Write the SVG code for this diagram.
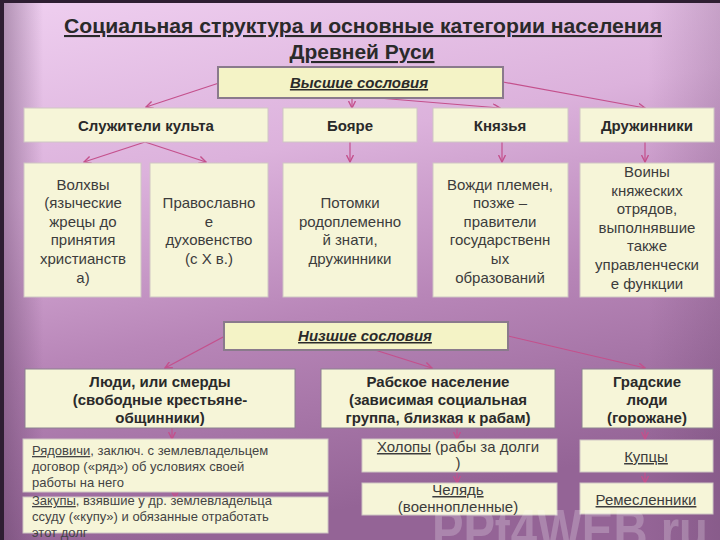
<svg xmlns="http://www.w3.org/2000/svg" width="720" height="540" viewBox="0 0 720 540">
<defs>
<linearGradient id="bg" x1="0" y1="0" x2="0.25" y2="1">
<stop offset="0" stop-color="#efcff0"/>
<stop offset="0.35" stop-color="#dcb2dc"/>
<stop offset="0.65" stop-color="#b886b8"/>
<stop offset="1" stop-color="#946496"/>
</linearGradient>
<linearGradient id="side" x1="0" y1="0" x2="1" y2="0">
<stop offset="0" stop-color="#5a3a5e" stop-opacity="0.45"/>
<stop offset="0.06" stop-color="#5a3a5e" stop-opacity="0"/>
<stop offset="0.9" stop-color="#5a3a5e" stop-opacity="0"/>
<stop offset="1" stop-color="#5a3a5e" stop-opacity="0.2"/>
</linearGradient>
<marker id="ah" markerWidth="8" markerHeight="8" refX="7" refY="4" orient="auto" markerUnits="userSpaceOnUse">
<path d="M0,0.5 L7,4 L0,7.5" fill="none" stroke="#c4508c" stroke-width="1.4"/>
</marker>
</defs>
<style>
.box{fill:#f6f5d8;stroke:#cfc6c4;stroke-width:1}
.hbox{fill:#f4f3c6;stroke:#8a7a8c;stroke-width:2}
.lbox{fill:#f6f5d8;stroke:#8c8090;stroke-width:1}
.t{font-family:"Liberation Sans",Arial,sans-serif;fill:#2a2a2a;text-anchor:middle}
.b{font-weight:bold;font-size:15px}
.r{font-size:15px;fill:#3c3c3c}
.s{font-size:13px;fill:#444;text-anchor:start}
.u{text-decoration:underline}
.c{fill:none;stroke:#c4508c;stroke-width:1.2;marker-end:url(#ah)}
</style>
<rect x="0" y="0" width="720" height="540" fill="url(#bg)"/>
<rect x="0" y="0" width="720" height="540" fill="url(#side)"/>
<rect x="0" y="0" width="720" height="3" fill="#2e1e32"/>
<rect x="0" y="0" width="4" height="540" fill="#2e1e32"/>

<g id="title">
<text class="t u" x="363" y="33" font-size="21" font-weight="bold" textLength="598" lengthAdjust="spacingAndGlyphs">Социальная структура и основные категории населения</text>
<text class="t u" x="362" y="59" font-size="21" font-weight="bold" textLength="145" lengthAdjust="spacingAndGlyphs">Древней Руси</text>
</g>

<g id="connectors">
<path class="c" d="M219,83 L146,107"/>
<path class="c" d="M352,98 L352,108"/>
<path class="c" d="M366,97 L500,108"/>
<path class="c" d="M503,82 L645,108"/>
<path class="c" d="M145,142 L84,162"/>
<path class="c" d="M145,142 L206,162"/>
<path class="c" d="M350,142 L350,162"/>
<path class="c" d="M502,142 L502,162"/>
<path class="c" d="M645,142 L645,162"/>
<path class="c" d="M225,336 L165,368"/>
<path class="c" d="M375,350 L432,368"/>
<path class="c" d="M508,336 L645,368"/>
<path class="c" d="M172,428 L172,439"/>
<path class="c" d="M175,490 L175,498"/>
<path class="c" d="M457,428 L457,439"/>
<path class="c" d="M457,472 L457,483"/>
<path class="c" d="M645,428 L645,439"/>
<path class="c" d="M645,472 L645,483"/>
</g>

<g id="high">
<rect class="hbox" x="218" y="67" width="285" height="31"/>
<text class="t u" x="359" y="88" font-size="15" font-weight="bold" font-style="italic">Высшие сословия</text>
</g>

<g id="sluzhiteli">
<rect class="box" x="24" y="108" width="244" height="34"/>
<text class="t b" x="146" y="131">Служители культа</text>
</g>
<g id="boyare">
<rect class="box" x="283" y="108" width="134" height="34"/>
<text class="t b" x="350" y="131">Бояре</text>
</g>
<g id="knyazya">
<rect class="box" x="433" y="108" width="135" height="34"/>
<text class="t b" x="500" y="131">Князья</text>
</g>
<g id="druzhinniki">
<rect class="box" x="580" y="108" width="134" height="34"/>
<text class="t b" x="647" y="131">Дружинники</text>
</g>

<g id="volkhvy">
<rect class="box" x="24" y="163" width="117" height="134"/>
<text class="t r" x="83" y="190">Волхвы</text>
<text class="t r" x="83" y="208">(языческие</text>
<text class="t r" x="83" y="227">жрецы до</text>
<text class="t r" x="83" y="245">принятия</text>
<text class="t r" x="83" y="264">христианств</text>
<text class="t r" x="83" y="283">а)</text>
</g>
<g id="pravoslavnoe">
<rect class="box" x="150" y="163" width="118" height="134"/>
<text class="t r" x="209" y="208">Православно</text>
<text class="t r" x="209" y="227">е</text>
<text class="t r" x="209" y="245">духовенство</text>
<text class="t r" x="209" y="264">(с X в.)</text>
</g>
<g id="potomki">
<rect class="box" x="283" y="163" width="134" height="134"/>
<text class="t r" x="350" y="208">Потомки</text>
<text class="t r" x="350" y="227">родоплеменно</text>
<text class="t r" x="350" y="245">й знати,</text>
<text class="t r" x="350" y="264">дружинники</text>
</g>
<g id="vozhdi">
<rect class="box" x="433" y="163" width="135" height="134"/>
<text class="t r" x="500" y="190">Вожди племен,</text>
<text class="t r" x="500" y="208">позже –</text>
<text class="t r" x="500" y="227">правители</text>
<text class="t r" x="500" y="245">государственн</text>
<text class="t r" x="500" y="264">ых</text>
<text class="t r" x="500" y="283">образований</text>
</g>
<g id="voiny">
<rect class="box" x="580" y="163" width="134" height="134"/>
<text class="t r" x="647" y="177">Воины</text>
<text class="t r" x="647" y="196">княжеских</text>
<text class="t r" x="647" y="214">отрядов,</text>
<text class="t r" x="647" y="233">выполнявшие</text>
<text class="t r" x="647" y="251">также</text>
<text class="t r" x="647" y="270">управленчески</text>
<text class="t r" x="647" y="289">е функции</text>
</g>

<g id="low">
<rect class="hbox" x="224" y="322" width="284" height="28"/>
<text class="t u" x="365" y="341" font-size="15" font-weight="bold" font-style="italic">Низшие сословия</text>
</g>

<g id="lyudi">
<rect class="lbox" x="25" y="369" width="270" height="59"/>
<text class="t b" x="160" y="387">Люди, или смерды</text>
<text class="t b" x="160" y="405">(свободные крестьяне-</text>
<text class="t b" x="160" y="423">общинники)</text>
</g>
<g id="rabskoe">
<rect class="lbox" x="321" y="369" width="234" height="59"/>
<text class="t b" x="438" y="387">Рабское население</text>
<text class="t b" x="438" y="405">(зависимая социальная</text>
<text class="t b" x="438" y="423">группа, близкая к рабам)</text>
</g>
<g id="gradskie">
<rect class="lbox" x="582" y="369" width="131" height="59"/>
<text class="t b" x="647" y="387">Градские</text>
<text class="t b" x="647" y="405">люди</text>
<text class="t b" x="647" y="423">(горожане)</text>
</g>

<g id="ryadovichi">
<rect class="box" x="23" y="439" width="305" height="53"/>
<text class="t s" x="32" y="455"><tspan class="u">Рядовичи</tspan>, заключ. с землевладельцем</text>
<text class="t s" x="32" y="471">договор («ряд») об условиях  своей</text>
<text class="t s" x="32" y="487">работы на него</text>
</g>
<g id="zakupy">
<rect class="box" x="23" y="497" width="305" height="36"/>
<text class="t s" x="32" y="505"><tspan class="u">Закупы</tspan>, взявшие у др. землевладельца</text>
<text class="t s" x="32" y="521">ссуду («купу») и обязанные отработать</text>
<text class="t s" x="32" y="537">этот долг</text>
</g>
<g id="kholopy">
<rect class="box" x="362" y="439" width="195" height="33"/>
<text class="t r" x="458" y="452" font-size="14"><tspan class="u">Холопы</tspan> (рабы за долги</text>
<text class="t r" x="458" y="468" font-size="14">)</text>
</g>
<g id="chelyad">
<rect class="box" x="362" y="483" width="195" height="32"/>
<text class="t r u" x="458" y="495" font-size="14">Челядь</text>
<text class="t r" x="458" y="512" font-size="14">(военнопленные)</text>
</g>
<g id="kuptsy">
<rect class="box" x="580" y="440" width="133" height="32"/>
<text class="t r u" x="646" y="462" font-size="14">Купцы</text>
</g>
<g id="remeslenniki">
<rect class="box" x="580" y="483" width="133" height="31"/>
<text class="t r u" x="646" y="505" font-size="14">Ремесленники</text>
</g>

<text x="432" y="550" font-family="'Liberation Sans',Arial,sans-serif" font-size="58" font-weight="bold" fill="#ffffff" fill-opacity="0.22" textLength="276" lengthAdjust="spacingAndGlyphs">PPt4WEB.ru</text>
</svg>
